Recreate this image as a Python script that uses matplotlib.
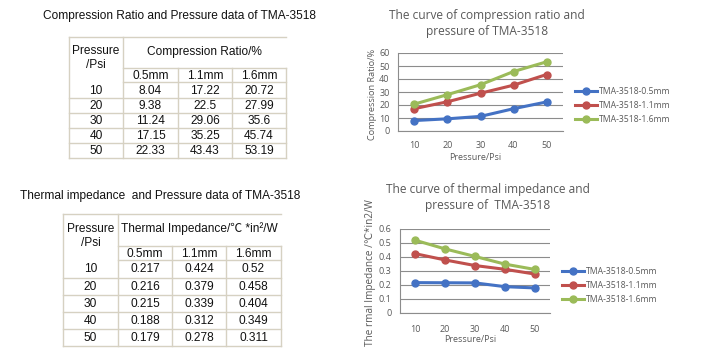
import matplotlib
matplotlib.use("Agg")
import matplotlib.pyplot as plt
from matplotlib.lines import Line2D
from matplotlib.ticker import FuncFormatter

# ---------------- data ----------------
pressure = [10, 20, 30, 40, 50]
thickness = ["0.5mm", "1.1mm", "1.6mm"]
comp_05 = [8.04, 9.38, 11.24, 17.15, 22.33]
comp_11 = [17.22, 22.5, 29.06, 35.25, 43.43]
comp_16 = [20.72, 27.99, 35.6, 45.74, 53.19]
imp_05 = [0.217, 0.216, 0.215, 0.188, 0.179]
imp_11 = [0.424, 0.379, 0.339, 0.312, 0.278]
imp_16 = [0.52, 0.458, 0.404, 0.349, 0.311]
series_names = ["TMA-3518-0.5mm", "TMA-3518-1.1mm", "TMA-3518-1.6mm"]
colors = ["#4472C4", "#C0504D", "#9BBB59"]

W, H = 722, 354
fig = plt.figure(figsize=(W / 100, H / 100), dpi=100)
fig.patch.set_facecolor("white")

def fx(x):
    return x / W

def fy(y):
    return 1 - y / H

BORDER = "#d6d1c2"
TFONT = ["Liberation Sans", "Noto Sans CJK SC", "DejaVu Sans"]
TCOL = "#111111"
TSIZE = 8.6

def hline(x0, x1, y):
    fig.add_artist(Line2D([fx(x0), fx(x1)], [fy(y), fy(y)], color=BORDER, lw=1.0))

def vline(x, y0, y1):
    fig.add_artist(Line2D([fx(x), fx(x)], [fy(y0), fy(y1)], color=BORDER, lw=1.0))

def txt(x, y, s, size=TSIZE, ha="center", family=TFONT, color=TCOL):
    fig.text(fx(x), fy(y), s, ha=ha, va="center", fontsize=size, family=family, color=color)

def draw_table(title, title_x, title_y, cols, top, sub_top, sub_bot, rows, header, vals, fmt):
    txt(title_x, title_y, title, ha="left")
    hline(cols[0], cols[-1], top)
    hline(cols[1], cols[-1], sub_top)
    hline(cols[1], cols[-1], sub_bot)
    for r in rows:
        hline(cols[0], cols[-1], r)
    vline(cols[0], top, rows[-1])
    vline(cols[1], top, rows[-1])
    vline(cols[2], sub_top, rows[-1])
    vline(cols[3], sub_top, rows[-1])
    vline(cols[4], sub_top, rows[-1])
    c0 = (cols[0] + cols[1]) / 2
    txt(c0, (top + sub_top) / 2 - 1, "Pressure")
    txt(c0, (top + sub_top) / 2 + 13, "/Psi")
    txt((cols[1] + cols[-1]) / 2, (top + sub_top) / 2 - 1, header)
    for i, t in enumerate(thickness):
        txt((cols[i + 1] + cols[i + 2]) / 2, (sub_top + sub_bot) / 2 + 1, t)
    ys = [sub_bot] + rows
    for j, p in enumerate(pressure):
        yc = (ys[j] + ys[j + 1]) / 2 + 0.5
        txt(c0, yc, str(p))
        for i, series in enumerate(vals):
            txt((cols[i + 1] + cols[i + 2]) / 2, yc, fmt(series[j]))

draw_table("Compression Ratio and Pressure data of TMA-3518", 43, 16,
           [69, 123, 178, 232, 286], 37, 68, 82, [98, 113, 128, 143, 158],
           "Compression Ratio/%", [comp_05, comp_11, comp_16], lambda v: f"{v:g}")
draw_table("Thermal impedance  and Pressure data of TMA-3518", 20, 196,
           [63, 118, 172, 226, 281], 214, 246, 260, [278, 295, 312, 329, 346],
           "Thermal Impedance/\u2103 *in\u00b2/W", [imp_05, imp_11, imp_16], lambda v: f"{v:g}")

# ---------------- charts ----------------
CFONT = ["Open Sans", "DejaVu Sans"]
GRAY = "#595959"
GRID = "#8c8c8c"

def draw_chart(box, data, ylim, yticks, yfmt, title, ylabel, ylabel_size, title_xy, ylabel_x,
               xlabel_y, legend_xy, xpad):
    l, t, r, b = box
    ax = fig.add_axes([fx(l), fy(b), fx(r) - fx(l), (b - t) / H])
    x = list(range(len(pressure)))
    for s, c in zip(data, colors):
        ax.plot(x, s, color=c, lw=2.2, marker="o", ms=5, solid_capstyle="round", zorder=3)
    ax.set_xlim(-0.5, len(pressure) - 0.5)
    ax.set_ylim(*ylim)
    ax.set_yticks(yticks)
    ax.yaxis.set_major_formatter(FuncFormatter(yfmt))
    ax.set_xticks(x)
    ax.set_xticklabels([str(p) for p in pressure])
    ax.grid(axis="y", color=GRID, lw=0.8)
    ax.set_axisbelow(True)
    for sp in ["top", "right"]:
        ax.spines[sp].set_visible(False)
    for sp in ["left", "bottom"]:
        ax.spines[sp].set_color(GRID)
        ax.spines[sp].set_linewidth(0.8)
    ax.tick_params(axis="both", length=0, labelsize=6.5, labelcolor=GRAY)
    ax.tick_params(axis="y", pad=6)
    ax.tick_params(axis="x", pad=xpad)
    for lab in ax.get_xticklabels() + ax.get_yticklabels():
        lab.set_family(CFONT)
    fig.text(fx(title_xy[0]), fy(title_xy[1]), title, ha="center", va="center",
             fontsize=8.6, family=CFONT, color=GRAY, linespacing=1.3)
    fig.text(fx(ylabel_x), fy((t + b) / 2 + 2), ylabel, rotation=90, ha="center", va="center",
             fontsize=ylabel_size, family=CFONT, color=GRAY)
    fig.text(fx((l + r) / 2 - 5), fy(xlabel_y), "Pressure/Psi", ha="center", va="center",
             fontsize=6.5, family=CFONT, color=GRAY)
    lx, ly = legend_xy
    for i, (n, c) in enumerate(zip(series_names, colors)):
        yy = ly + i * 14
        fig.add_artist(Line2D([fx(lx), fx(lx + 22)], [fy(yy), fy(yy)], color=c, lw=2.2))
        fig.add_artist(Line2D([fx(lx + 11)], [fy(yy)], color=c, marker="o", ms=5, lw=0))
        fig.text(fx(lx + 24), fy(yy), n, ha="left", va="center", fontsize=6.2, family=CFONT, color=GRAY)
    return ax

draw_chart((398, 53, 563, 131), [comp_05, comp_11, comp_16], (0, 60), [0, 10, 20, 30, 40, 50, 60],
           lambda v, p: f"{v:g}",
           "The curve of compression ratio and\npressure of TMA-3518", "Compression Ratio/%", 6.6,
           (487, 23), 373, 157, (575, 91), 7)
draw_chart((400, 229, 550, 313), [imp_05, imp_11, imp_16], (0, 0.6), [0, 0.1, 0.2, 0.3, 0.4, 0.5, 0.6],
           lambda v, p: "0" if abs(v) < 1e-9 else f"{v:.1f}",
           "The curve of thermal impedance and\npressure of  TMA-3518", "The rmal Impedance /\u2103*in2/W", 7.2,
           (488, 197), 371, 340, (562, 271), 9)

fig.savefig("out.png", dpi=100, facecolor="white")
